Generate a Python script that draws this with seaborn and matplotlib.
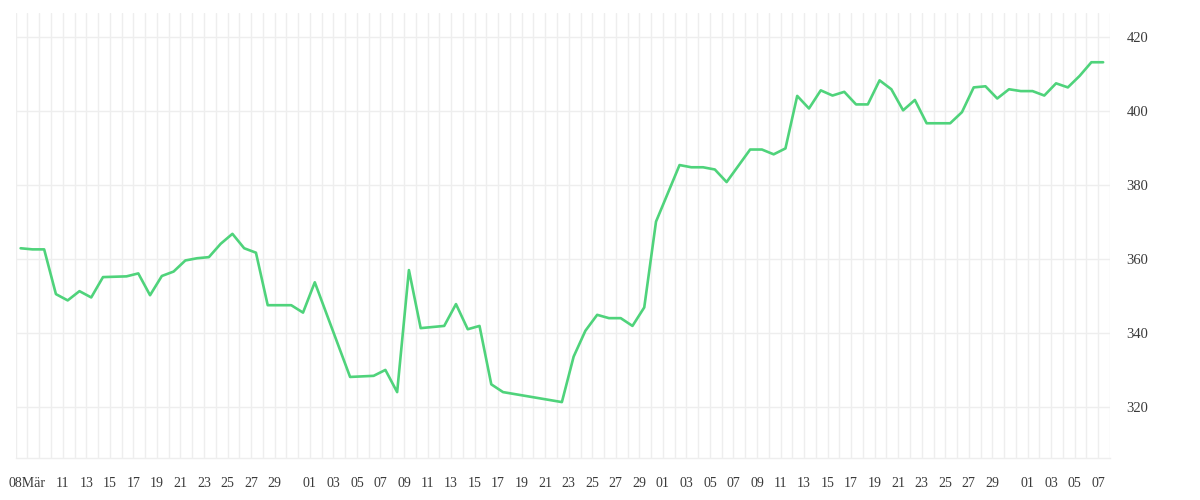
import pandas as pd
import matplotlib
matplotlib.use("Agg")
import matplotlib.pyplot as plt
import matplotlib.dates as mdates
import seaborn as sns

# Preisverlauf (Messpunkte, unregelmäßig)
dates = [
    "2021-03-07", "2021-03-08", "2021-03-09", "2021-03-10", "2021-03-11", "2021-03-12",
    "2021-03-13", "2021-03-14", "2021-03-16", "2021-03-17", "2021-03-18", "2021-03-19",
    "2021-03-20", "2021-03-21", "2021-03-22", "2021-03-23", "2021-03-24", "2021-03-25",
    "2021-03-26", "2021-03-27", "2021-03-28", "2021-03-29", "2021-03-30", "2021-03-31",
    "2021-04-01", "2021-04-04", "2021-04-06", "2021-04-07", "2021-04-08", "2021-04-09",
    "2021-04-10", "2021-04-12", "2021-04-13", "2021-04-14", "2021-04-15", "2021-04-16",
    "2021-04-17", "2021-04-22", "2021-04-23", "2021-04-24", "2021-04-25", "2021-04-26",
    "2021-04-27", "2021-04-28", "2021-04-29", "2021-04-30", "2021-05-02", "2021-05-03",
    "2021-05-04", "2021-05-05", "2021-05-06", "2021-05-08", "2021-05-09", "2021-05-10",
    "2021-05-11", "2021-05-12", "2021-05-13", "2021-05-14", "2021-05-15", "2021-05-16",
    "2021-05-17", "2021-05-18", "2021-05-19", "2021-05-20", "2021-05-21", "2021-05-22",
    "2021-05-23", "2021-05-24", "2021-05-25", "2021-05-26", "2021-05-27", "2021-05-28",
    "2021-05-29", "2021-05-30", "2021-05-31", "2021-06-01", "2021-06-02", "2021-06-03",
    "2021-06-04", "2021-06-05", "2021-06-06", "2021-06-07",
]
prices = [
    362.9, 362.6, 362.6, 350.5, 348.8, 351.3,
    349.6, 355.1, 355.3, 356.1, 350.2, 355.4,
    356.6, 359.6, 360.2, 360.5, 364.1, 366.8,
    362.9, 361.7, 347.5, 347.5, 347.5, 345.5,
    353.7, 328.1, 328.4, 330.0, 324.0, 357.0,
    341.3, 341.9, 347.8, 341.0, 341.9, 326.1,
    324.0, 321.3, 333.6, 340.6, 344.9, 344.0,
    344.0, 341.9, 346.9, 370.1, 385.4, 384.8,
    384.8, 384.2, 380.8, 389.6, 389.6, 388.3,
    389.9, 404.1, 400.7, 405.6, 404.2, 405.2,
    401.8, 401.8, 408.3, 405.9, 400.2, 403.0,
    396.7, 396.7, 396.7, 399.7, 406.4, 406.7,
    403.4, 405.9, 405.4, 405.4, 404.2, 407.5,
    406.4, 409.5, 413.2, 413.2,
]

# Achsenbeschriftung
tick_dates = [
    "2021-03-08", "2021-03-11", "2021-03-13", "2021-03-15", "2021-03-17", "2021-03-19",
    "2021-03-21", "2021-03-23", "2021-03-25", "2021-03-27", "2021-03-29",
    "2021-04-01", "2021-04-03", "2021-04-05", "2021-04-07", "2021-04-09", "2021-04-11",
    "2021-04-13", "2021-04-15", "2021-04-17", "2021-04-19", "2021-04-21", "2021-04-23",
    "2021-04-25", "2021-04-27", "2021-04-29",
    "2021-05-01", "2021-05-03", "2021-05-05", "2021-05-07", "2021-05-09", "2021-05-11",
    "2021-05-13", "2021-05-15", "2021-05-17", "2021-05-19", "2021-05-21", "2021-05-23",
    "2021-05-25", "2021-05-27", "2021-05-29",
    "2021-06-01", "2021-06-03", "2021-06-05", "2021-06-07",
]
tick_labels = ["08Mär"] + [pd.Timestamp(d).strftime("%d") for d in tick_dates[1:]]
y_ticks = [320, 340, 360, 380, 400, 420]

df = pd.DataFrame({"datum": pd.to_datetime(dates) + pd.Timedelta(hours=10), "preis": prices})

sns.set_theme(style="white")
plt.rcParams["font.family"] = ["Liberation Serif", "DejaVu Serif"]

fig, ax = plt.subplots(figsize=(12, 5), dpi=100)
fig.subplots_adjust(left=0.0131, right=0.925, bottom=0.0834, top=0.9746)

sns.lineplot(data=df, x="datum", y="preis", ax=ax, color="#4fd37b", linewidth=1.9)

grid_c = "#eeeeee"
ax.set_xlim(pd.Timestamp("2021-03-07"), pd.Timestamp("2021-06-08"))
ax.set_ylim(306.1, 426.6)
ax.set_xticks(pd.to_datetime(tick_dates))
ax.set_xticklabels(tick_labels)
ax.xaxis.set_minor_locator(mdates.DayLocator())
ax.set_yticks(y_ticks)
ax.yaxis.tick_right()
ax.grid(which="both", color=grid_c, linewidth=1)
ax.set_axisbelow(True)
ax.tick_params(axis="x", which="both", length=7.5, width=1, color=grid_c,
               pad=6, labelsize=10, labelcolor="#3a3a3a")
ax.tick_params(axis="y", length=0, pad=12, labelsize=10.5, labelcolor="#3a3a3a")
ax.set_xlabel("")
ax.set_ylabel("")
for side in ["top", "left", "right"]:
    ax.spines[side].set_visible(False)
ax.spines["bottom"].set_color(grid_c)
ax.spines["bottom"].set_linewidth(1)

fig.savefig("out.png", dpi=100, facecolor="white")
